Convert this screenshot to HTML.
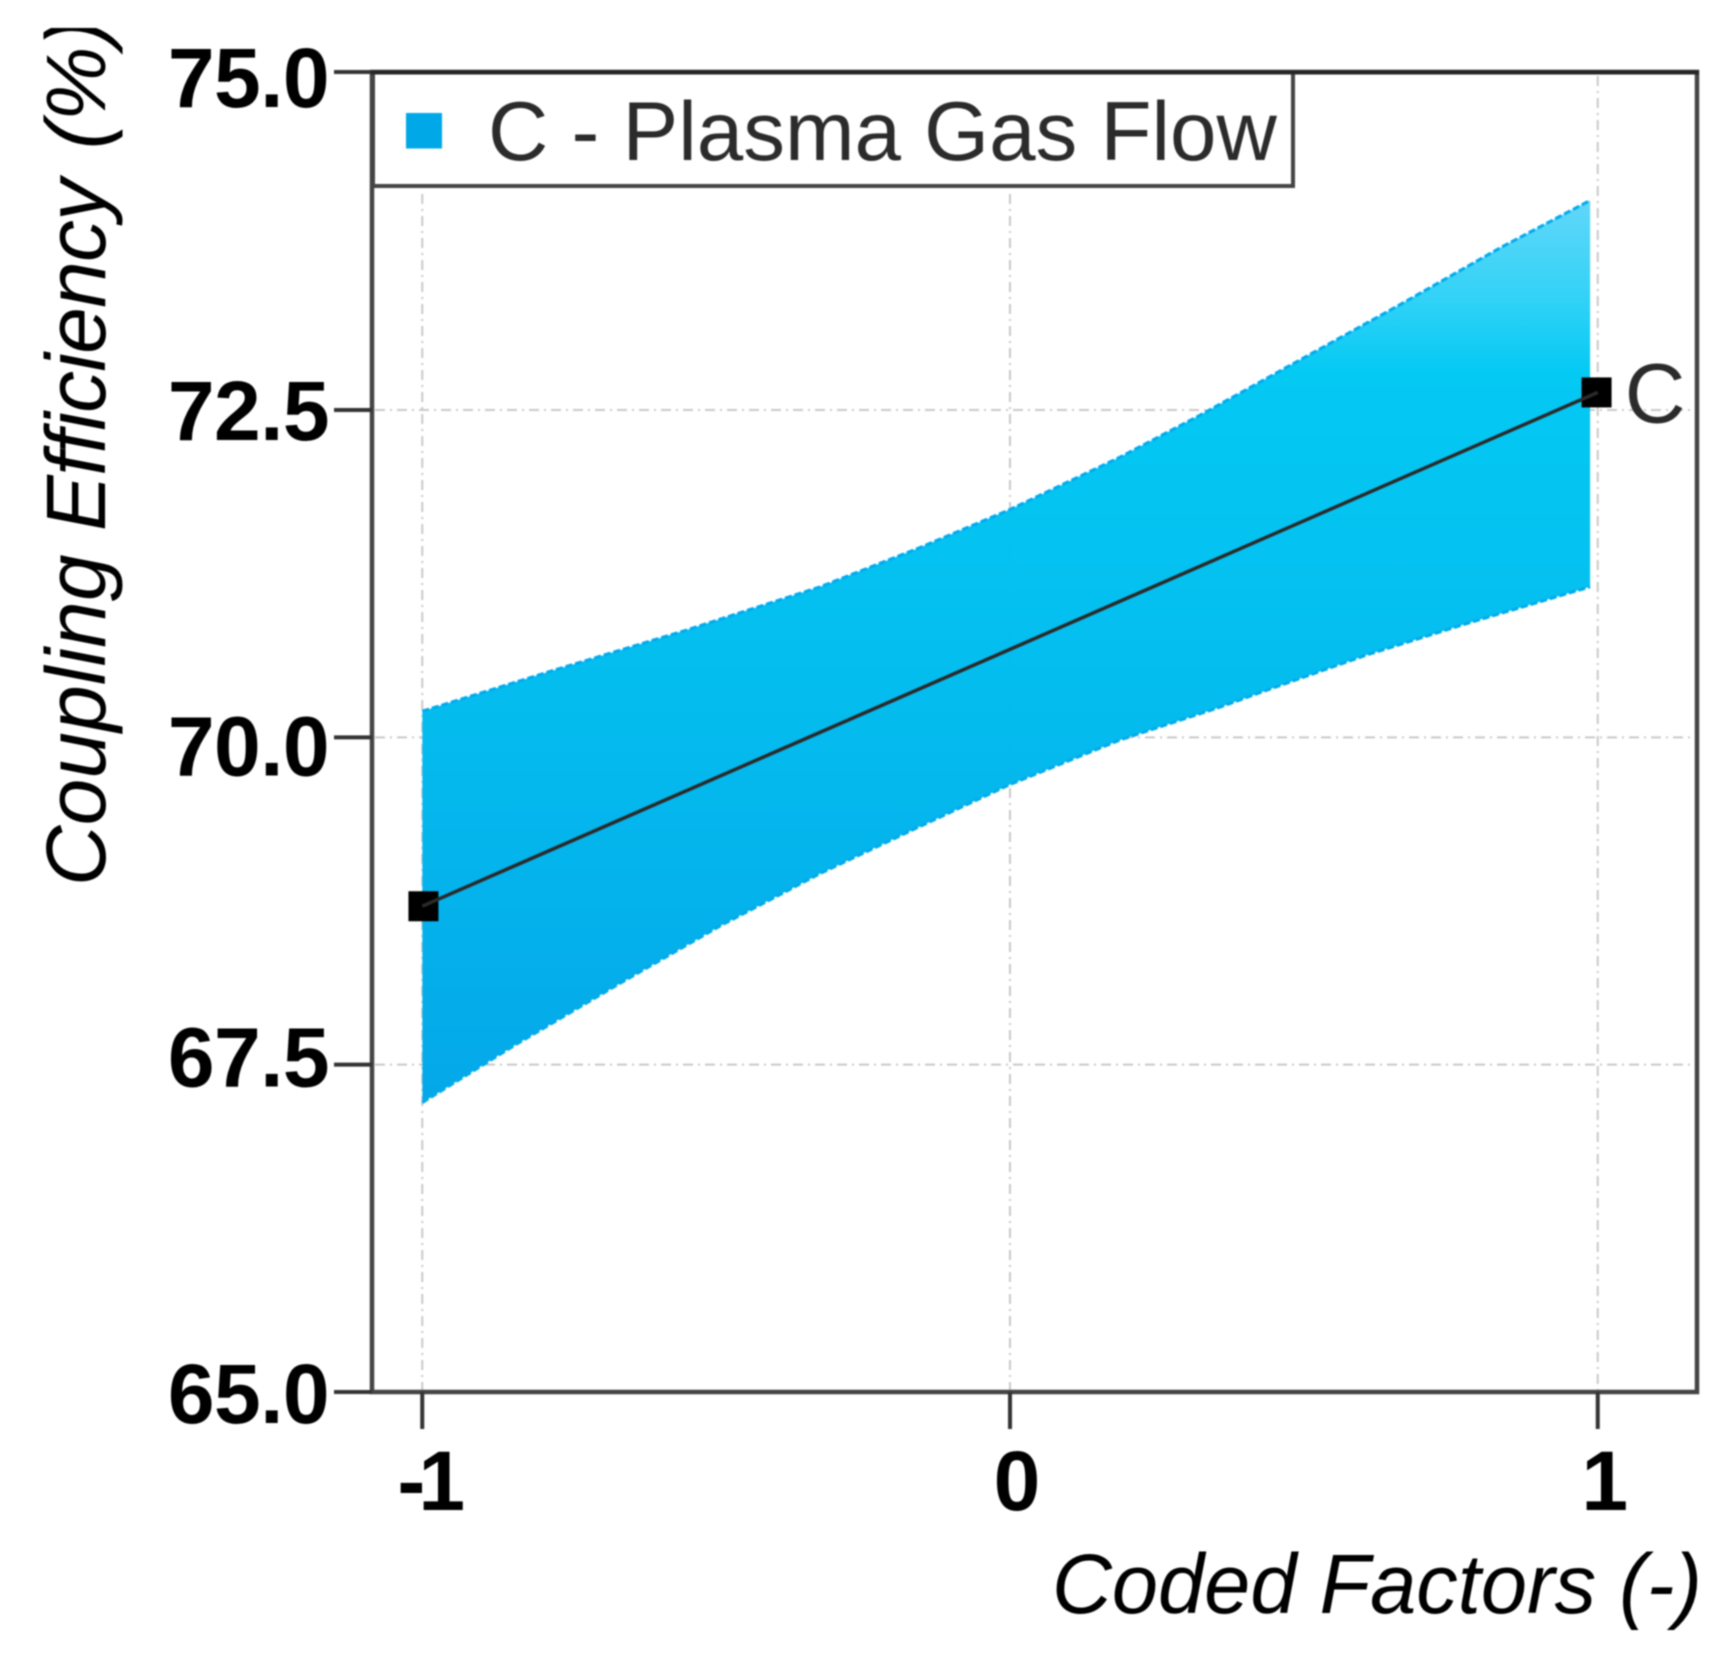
<!DOCTYPE html>
<html lang="en">
<head>
<meta charset="utf-8">
<title>Coupling Efficiency vs Coded Factors</title>
<style>
html,body{margin:0;padding:0;background:#fff;}
svg{display:block;filter:blur(0.7px);}
text{font-family:"Liberation Sans",Arial,sans-serif;}
</style>
</head>
<body>
<svg id="chart" xmlns="http://www.w3.org/2000/svg" width="1731" height="1659" viewBox="0 0 1731 1659">
  <defs>
    <linearGradient id="bandFill" gradientUnits="userSpaceOnUse" x1="0" y1="200" x2="0" y2="1102">
      <stop offset="0" stop-color="#5ed6f8"/>
      <stop offset="0.11" stop-color="#2ed1f6"/>
      <stop offset="0.19" stop-color="#00c8f3"/>
      <stop offset="0.55" stop-color="#00bbee"/>
      <stop offset="1" stop-color="#00a6e8"/>
    </linearGradient>
    <clipPath id="yTitleClip"><rect x="43" y="28" width="90" height="880"/></clipPath>
    <clipPath id="xTitleClip"><rect x="1040" y="1545" width="670" height="85"/></clipPath>
  </defs>
  <rect width="1731" height="1659" fill="#fff"/>
  <g id="grid"></g>
  <g id="series"></g>
  <g id="axes"></g>

  <g>
    <rect x="373" y="72" width="920" height="114" fill="#fff" stroke="#444" stroke-width="4"/>
    <rect x="406" y="113" width="36" height="35.5" fill="#00a8e8"/>
    <text x="488" y="160" font-size="83.5" fill="#2b2b2b">C - Plasma Gas Flow</text>
  </g>

  <rect x="371" y="70" width="1328" height="4.5" fill="#262626"/>

  <g clip-path="url(#yTitleClip)">
    <text transform="translate(105 886) rotate(-90)" font-size="84" font-style="italic" fill="#000">Coupling <tspan letter-spacing="-0.8">Efficiency</tspan> <tspan dx="7">(%)</tspan></text>
  </g>
  <g clip-path="url(#xTitleClip)">
    <text x="1052" y="1613" font-size="84" font-style="italic" fill="#000" textLength="650" lengthAdjust="spacingAndGlyphs">Coded Factors (-)</text>
  </g>
</svg>

<script>
var yTicks = [65, 67.5, 70, 72.5, 75];
var yTickLabels = ["65.0", "67.5", "70.0", "72.5", "75.0"];
var xTicks = [-1, 0, 1];
var xTickLabels = ["-1", "0", "1"];
var meanX = [-1, 1];
var meanY = [68.71, 72.63];
var upperX = [-1, -0.778, -0.55, -0.323, -0.153, 0, 0.187, 0.323, 0.493, 0.664, 0.834, 0.987];
var upperY = [70.20, 70.51, 70.82, 71.15, 71.45, 71.74, 72.14, 72.46, 72.87, 73.28, 73.70, 74.05];
var lowerX = [-1, -0.842, -0.664, -0.493, -0.323, -0.153, 0, 0.187, 0.357, 0.437, 0.607, 0.778, 0.987];
var lowerY = [67.21, 67.65, 68.12, 68.56, 68.96, 69.32, 69.64, 69.98, 70.23, 70.36, 70.63, 70.87, 71.15];
var pointLabel = "C";

var NS = "http://www.w3.org/2000/svg";
function xScale(v) { return 1010 + v * 587.75; }
function yScale(v) {
  if (v <= 72.5) { return 1392 - (v - 65) * 130.93; }
  return 410 - (v - 72.5) * 135.2;
}
function tickLabelOffset(v) {
  if (v === 75) { return 35; }
  if (v === 72.5) { return 30; }
  if (v === 70) { return 38; }
  if (v === 67.5) { return 22; }
  return 31;
}
function make(tag, parent) {
  var node = document.createElementNS(NS, tag);
  parent.appendChild(node);
  return node;
}
function pathFrom(xs, ys) {
  var d = "";
  for (var i = 0; i < xs.length; i++) {
    d += (i ? "L" : "M") + xScale(xs[i]).toFixed(1) + " " + yScale(ys[i]).toFixed(1);
  }
  return d;
}

var grid = document.getElementById("grid");
var series = document.getElementById("series");
var axes = document.getElementById("axes");
var i, el, px, py;

/* gridlines */
for (i = 0; i < yTicks.length; i++) {
  if (yTicks[i] === 65 || yTicks[i] === 75) { continue; }
  py = yScale(yTicks[i]);
  el = make("line", grid);
  
  
  el.setAttribute("x1", 375);
  el.setAttribute("x2", 1695);
  el.setAttribute("y1", py);
  el.setAttribute("y2", py);
  el.setAttribute("stroke", "#c9c9c9");
  el.setAttribute("stroke-width", 2);
  el.setAttribute("stroke-dasharray", "10 5 2 5");
}
for (i = 0; i < xTicks.length; i++) {
  px = xScale(xTicks[i]);
  el = make("line", grid);
  
  
  el.setAttribute("x1", px);
  el.setAttribute("x2", px);
  el.setAttribute("y1", xTicks[i] === 1 ? 76 : 194);
  el.setAttribute("y2", 1390);
  el.setAttribute("stroke", "#c9c9c9");
  el.setAttribute("stroke-width", 2);
  el.setAttribute("stroke-dasharray", "10 5 2 5");
}

/* confidence band */
var revX = lowerX.slice().reverse();
var revY = lowerY.slice().reverse();
el = make("path", series);


el.setAttribute("d", pathFrom(upperX.concat(revX), upperY.concat(revY)) + "Z");
el.setAttribute("fill", "url(#bandFill)");
el.setAttribute("fill-opacity", "0.985");

el = make("path", series);


el.setAttribute("d", pathFrom(upperX, upperY));
el.setAttribute("fill", "none");
el.setAttribute("stroke", "#00aaee");
el.setAttribute("stroke-width", 3);
el.setAttribute("stroke-dasharray", "7 3");

el = make("path", series);


el.setAttribute("d", pathFrom(lowerX, lowerY));
el.setAttribute("fill", "none");
el.setAttribute("stroke", "#00aaee");
el.setAttribute("stroke-width", 3);
el.setAttribute("stroke-dasharray", "7 3");

/* markers */
for (i = 0; i < meanX.length; i++) {
  el = make("rect", series);
  
  
  el.setAttribute("x", xScale(meanX[i] * 0.998) - 15);
  el.setAttribute("y", yScale(meanY[i]) - 15);
  el.setAttribute("width", 30);
  el.setAttribute("height", 30);
  el.setAttribute("fill", "#000");
}

/* mean line */
el = make("path", series);


el.setAttribute("d", pathFrom(meanX, meanY));
el.setAttribute("fill", "none");
el.setAttribute("stroke", "#2a2a2a");
el.setAttribute("stroke-width", 3.5);

/* point label */
el = make("text", series);


el.setAttribute("x", xScale(1) + 27);
el.setAttribute("y", yScale(meanY[1]) + 30);
el.setAttribute("font-size", 84);
el.setAttribute("fill", "#2b2b2b");
el.textContent = pointLabel;

/* plot frame */
el = make("rect", axes);


el.setAttribute("x", 372);
el.setAttribute("y", 72);
el.setAttribute("width", 1325);
el.setAttribute("height", 1320);
el.setAttribute("fill", "none");
el.setAttribute("stroke", "#444");
el.setAttribute("stroke-width", 4.5);

/* y ticks + labels */
for (i = 0; i < yTicks.length; i++) {
  py = yScale(yTicks[i]);
  el = make("line", axes);
  
  
  el.setAttribute("x1", 334);
  el.setAttribute("x2", 372);
  el.setAttribute("y1", py);
  el.setAttribute("y2", py);
  el.setAttribute("stroke", "#333");
  el.setAttribute("stroke-width", 4);

  el = make("text", axes);
  
  
  el.setAttribute("x", 329);
  el.setAttribute("y", py + tickLabelOffset(yTicks[i]));
  el.setAttribute("text-anchor", "end");
  el.setAttribute("font-size", 84);
  el.setAttribute("font-weight", "bold");
  el.setAttribute("letter-spacing", "-0.6");
  el.setAttribute("fill", "#000");
  el.textContent = yTickLabels[i];
}

/* x ticks + labels */
for (i = 0; i < xTicks.length; i++) {
  px = xScale(xTicks[i]);
  el = make("line", axes);
  
  
  el.setAttribute("x1", px);
  el.setAttribute("x2", px);
  el.setAttribute("y1", 1392);
  el.setAttribute("y2", 1429);
  el.setAttribute("stroke", "#333");
  el.setAttribute("stroke-width", 4);

  el = make("text", axes);
  
  
  el.setAttribute("x", xTickLabels[i].length > 1 ? px + 5.5 : px + 7);
  el.setAttribute("y", 1510);
  el.setAttribute("text-anchor", "middle");
  el.setAttribute("font-size", 84);
  el.setAttribute("font-weight", "bold");
  el.setAttribute("letter-spacing", xTickLabels[i].length > 1 ? "-7" : "0");
  el.setAttribute("fill", "#000");
  el.textContent = xTickLabels[i];
}
</script>
</body>
</html>
